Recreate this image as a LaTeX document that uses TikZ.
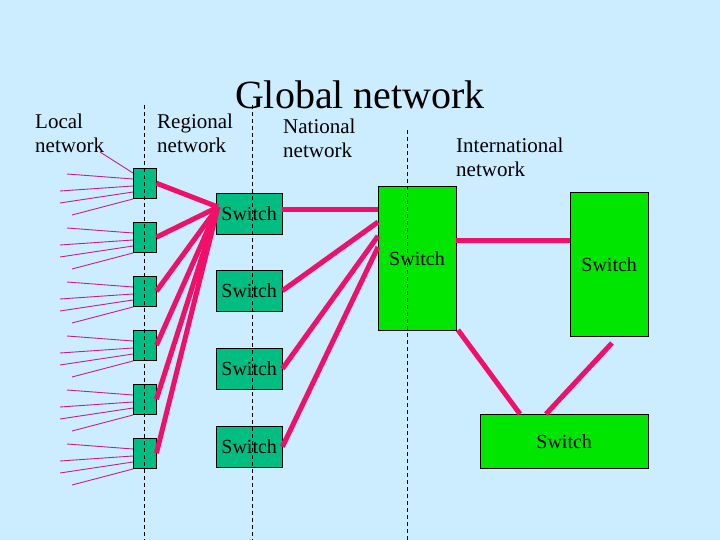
\documentclass[tikz,border=0pt]{standalone}
\usepackage{fontspec}
\setmainfont{Liberation Serif}
\definecolor{bgc}{RGB}{204,236,255}
\definecolor{lgreen}{RGB}{0,230,0}
\definecolor{tgreen}{RGB}{0,190,130}
\definecolor{linkc}{RGB}{240,16,106}
\definecolor{fanc}{RGB}{200,30,140}
\begin{document}
\begin{tikzpicture}[x=1pt,y=-1pt,
  lbl/.style={font=\fontsize{21}{24}\selectfont,align=left,inner sep=0pt},
  sw/.style={draw=black,fill=#1,inner sep=0pt,font=\fontsize{20}{22}\selectfont},
  thick link/.style={draw=linkc,line width=5pt},
  fan/.style={draw=fanc,line width=0.9pt},
  divider/.style={line width=0.6pt,dash pattern=on 4pt off 3pt}]
\fill[bgc] (0,0) rectangle (720,540);
\useasboundingbox (0,0) rectangle (720,540);
% dividers
\coordinate (d1t) at (144,105); \coordinate (d1b) at (144,540);
\coordinate (d2t) at (252,105); \coordinate (d2b) at (252,540);
\coordinate (d3t) at (407,130); \coordinate (d3b) at (407,540);
% texts
\node[inner sep=0pt,font=\fontsize{40}{44}\selectfont] (title) at (360,95) {Global network};
\node[lbl,anchor=north west] (loc) at (35,114) {Local\\network};
\node[lbl,anchor=north west] (reg) at (157,114) {Regional\\network};
\node[lbl,anchor=north west] (nat) at (283,119) {National\\network};
\node[lbl,anchor=north west] (intl) at (456,138) {International\\network};
% small boxes
\foreach \i in {0,...,5}{
  \pgfmathsetmacro{\yt}{168+54*\i}
  \node[draw=black,fill=tgreen,minimum width=23pt,minimum height=30pt,inner sep=0pt,anchor=north west] (b\i) at (133,\yt) {};
}
% regional switches
\foreach \n/\yy in {r1/193,r2/270,r3/348,r4/426}{
  \node[sw=tgreen,minimum width=66pt,minimum height=41pt,anchor=north west] (\n) at (216,\yy) {Switch};
}
\node[sw=lgreen,minimum width=78pt,minimum height=144pt,anchor=north west] (nat1) at (378,186) {};
\node[font=\fontsize{20}{22}\selectfont,inner sep=0pt] (nat1t) at (417,259) {Switch};
\node[sw=lgreen,minimum width=78pt,minimum height=144pt,anchor=north west] (int1) at (570,192) {Switch};
\node[sw=lgreen,minimum width=168pt,minimum height=54pt,anchor=north west] (int2) at (480,414) {Switch};
% dividers drawn on top
\draw[divider] (d1t) -- (d1b);
\draw[divider] (d2t) -- (d2b);
\draw[divider] (d3t) -- (d3b);
% fan lines
\foreach \i in {0,...,5}{
  \pgfmathsetmacro{\yt}{168+54*\i}
  \draw[fan] (67,\yt+6) -- ([yshift=-11pt]b\i.north west);
  \draw[fan] (60,\yt+23) -- ([yshift=-18pt]b\i.north west);
  \draw[fan] (60,\yt+35) -- ([yshift=-24pt]b\i.north west);
  \draw[fan] (72,\yt+47) -- ([yshift=-31pt]b\i.north west);
}
\coordinate (fx) at (100,152);
\draw[fan] (fx) -- ([yshift=-5pt]b0.north west);
% links boxes -> r1
\coordinate (hub) at (218,207);
\foreach \i in {0,...,5}{ \draw[thick link] (b\i.east) -- (hub); }
\coordinate (n1) at (378,210); \coordinate (n2) at (378,222);
\coordinate (n3) at (378,236); \coordinate (n4) at (378,247);
\draw[thick link] (r1.east |- n1) -- (n1);
\draw[thick link] (r2.east) -- (n2);
\draw[thick link] (r3.east) -- (n3);
\draw[thick link] (r4.east) -- (n4);
\draw[thick link] (nat1.east |- 0,240) -- (int1.west |- 0,240);
\coordinate (na) at (458,330); \coordinate (ia) at (520,414);
\draw[thick link] (na) -- (ia);
\coordinate (ib) at (612,343); \coordinate (ic) at (546,414);
\draw[thick link] (ib) -- (ic);
\end{tikzpicture}
\end{document}
